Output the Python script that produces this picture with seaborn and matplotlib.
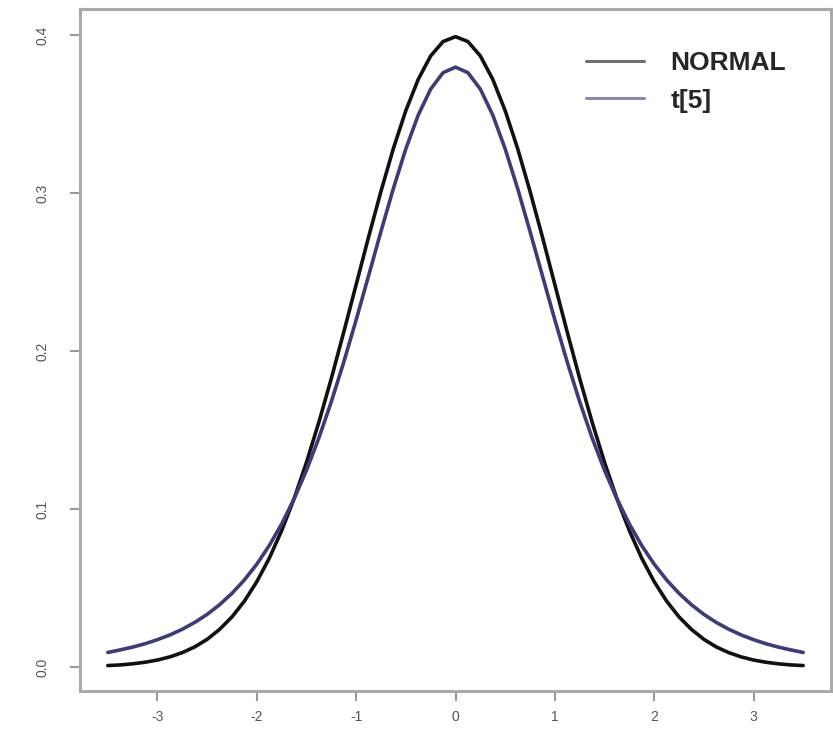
import numpy as np
import pandas as pd
import matplotlib
matplotlib.use("Agg")
import matplotlib.pyplot as plt
import seaborn as sns

# x positions
x_vals = [-3.5, -3.375, -3.25, -3.125, -3.0, -2.875, -2.75, -2.625, -2.5, -2.375, -2.25, -2.125,
          -2.0, -1.875, -1.75, -1.625, -1.5, -1.375, -1.25, -1.125, -1.0, -0.875, -0.75, -0.625,
          -0.5, -0.375, -0.25, -0.125, 0.0,
          0.125, 0.25, 0.375, 0.5, 0.625, 0.75, 0.875, 1.0, 1.125, 1.25, 1.375, 1.5,
          1.625, 1.75, 1.875, 2.0, 2.125, 2.25, 2.375, 2.5, 2.625, 2.75, 2.875, 3.0,
          3.125, 3.25, 3.375, 3.5]

normal_vals = [0.0009, 0.0013, 0.0020, 0.0030, 0.0044, 0.0064, 0.0091, 0.0127, 0.0175, 0.0238,
               0.0317, 0.0417, 0.0540, 0.0688, 0.0863, 0.1065, 0.1295, 0.1550, 0.1826, 0.2119,
               0.2420, 0.2721, 0.3011, 0.3282, 0.3521, 0.3719, 0.3867, 0.3958, 0.3989,
               0.3958, 0.3867, 0.3719, 0.3521, 0.3282, 0.3011, 0.2721, 0.2420, 0.2119, 0.1826,
               0.1550, 0.1295, 0.1065, 0.0863, 0.0688, 0.0540, 0.0417, 0.0317, 0.0238, 0.0175,
               0.0127, 0.0091, 0.0064, 0.0044, 0.0030, 0.0020, 0.0013, 0.0009]

t5_vals = [0.0092, 0.0108, 0.0126, 0.0147, 0.0173, 0.0203, 0.0239, 0.0282, 0.0333, 0.0394,
           0.0466, 0.0551, 0.0651, 0.0768, 0.0905, 0.1064, 0.1245, 0.1450, 0.1679, 0.1929,
           0.2197, 0.2476, 0.2757, 0.3029, 0.3279, 0.3493, 0.3657, 0.3761, 0.3796,
           0.3761, 0.3657, 0.3493, 0.3279, 0.3029, 0.2757, 0.2476, 0.2197, 0.1929, 0.1679,
           0.1450, 0.1245, 0.1064, 0.0905, 0.0768, 0.0651, 0.0551, 0.0466, 0.0394, 0.0333,
           0.0282, 0.0239, 0.0203, 0.0173, 0.0147, 0.0126, 0.0108, 0.0092]

series_names = ["NORMAL", "t[5]"]
x_ticks = [-3, -2, -1, 0, 1, 2, 3]
y_ticks = [0.0, 0.1, 0.2, 0.3, 0.4]
y_tick_labels = ["0.0", "0.1", "0.2", "0.3", "0.4"]

df = pd.DataFrame({
    "x": x_vals * 2,
    "y": normal_vals + t5_vals,
    "dist": [series_names[0]] * len(x_vals) + [series_names[1]] * len(x_vals),
})

sns.set_style("white")
plt.rcParams['font.family'] = ['Liberation Sans', 'DejaVu Sans']

fig = plt.figure(figsize=(8.33, 7.53), dpi=100)
ax = fig.add_axes([80 / 833, 1 - 691 / 753, (831 - 80) / 833, (691 - 9) / 753])

palette = {"NORMAL": "#111111", "t[5]": "#3c3c78"}
sns.lineplot(data=df, x="x", y="y", hue="dist", palette=palette, ax=ax,
             linewidth=2.6, sort=False, estimator=None)
for ln in ax.get_lines():
    ln.set_solid_joinstyle("round")
    ln.set_solid_capstyle("round")

ax.set_xlim(-3.78, 3.78)
ax.set_ylim(-0.0152, 0.4164)
ax.set_xlabel("")
ax.set_ylabel("")

ax.set_xticks(x_ticks)
ax.set_xticklabels([str(v) for v in x_ticks])
ax.set_yticks(y_ticks)
ax.set_yticklabels(y_tick_labels, rotation=90, va="center")
ax.tick_params(axis="both", length=7, width=1.5, color="#999999", labelsize=10,
               labelcolor="#555555", direction="out", bottom=True, left=True)
ax.tick_params(axis="x", pad=7)
ax.tick_params(axis="y", pad=15)

for s in ax.spines.values():
    s.set_color("#aaaaaa")
    s.set_linewidth(2.2)
    s.set_visible(True)

leg = ax.legend(loc="center", bbox_to_anchor=(0.807, 0.893), frameon=False,
                handlelength=2.2, handletextpad=1.0, labelspacing=0.5,
                prop={"family": "Liberation Sans", "weight": "bold", "size": 19})
for line in leg.get_lines():
    line.set_linewidth(2.2)
    line.set_alpha(0.6)

fig.savefig("out.png", dpi=100)
